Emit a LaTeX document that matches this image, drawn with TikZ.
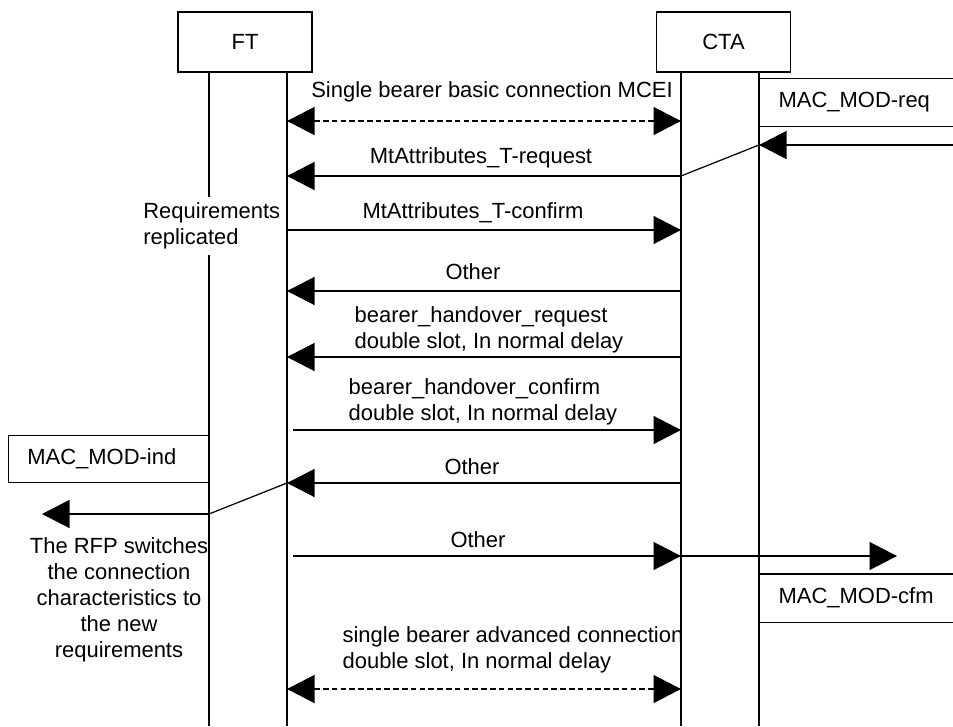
\documentclass[tikz,border=0pt]{standalone}
\usepackage{fontspec}
\setmainfont{Liberation Sans}
\usetikzlibrary{arrows.meta}
\begin{document}
\begin{tikzpicture}[>={Triangle[length=0.55cm,width=0.56cm]},line width=0.7pt,
  font=\fontsize{12.5}{14.8}\selectfont,
  entity/.style={draw,minimum width=2.68cm,minimum height=1.2cm},
  prim/.style={inner xsep=0.38cm,inner ysep=0pt,minimum height=0.94cm,align=left,anchor=west},
  lbl/.style={inner sep=0pt},
  async/.style={<->,dash pattern=on 3.2pt off 1.8pt}]
  \useasboundingbox (0,0) rectangle (19.06,-14.52);

  % entities and their lifelines
  \node[entity] (ft) at (4.9,-0.84) {FT};
  \node[entity] (cta) at (14.47,-0.84) {CTA};
  \coordinate (ftL) at (4.18,-1.44);
  \coordinate (ftR) at (5.74,-1.44);
  \coordinate (ctaL) at (13.62,-1.44);
  \coordinate (ctaR) at (15.18,-1.44);
  \foreach \c in {ftL,ftR,ctaL,ctaR}
    \draw (\c) -- (\c |- 0,-14.52);

  % basic connection
  \node[lbl] (mcei) at (9.84,-1.84) {Single bearer basic connection MCEI};
  \draw[async] (ftR |- 0,-2.42) -- (ctaL |- 0,-2.42);

  % MAC_MOD-req from the right
  \node[prim,text width=3.12cm] (modreq) at (15.18,-2.05) {MAC\_MOD-req};
  \draw (modreq.north east) -- (modreq.north west) -- (modreq.south west) -- (modreq.south east);
  \coordinate (reqin) at (19.06,-2.9);
  \draw[->] (reqin) -- (ctaR |- reqin);
  \draw (ctaR |- reqin) -- (ctaL |- 0,-3.52);

  % attributes exchange
  \node[lbl] (atreq) at (9.62,-3.16) {MtAttributes\_T-request};
  \draw[->] (ctaL |- 0,-3.52) -- (ftR |- 0,-3.52);
  \node[lbl] (atcfm) at (9.46,-4.26) {MtAttributes\_T-confirm};
  \draw[->] (ftR |- 0,-4.6) -- (ctaL |- 0,-4.6);
  \node[fill=white,inner xsep=1pt,inner ysep=3pt,align=left,anchor=west] (repl) at (2.82,-4.52) {Requirements\\replicated};

  \node[lbl] (oth1) at (9.46,-5.44) {Other};
  \draw[->] (ctaL |- 0,-5.82) -- (ftR |- 0,-5.82);

  % bearer handover
  \node[lbl,align=left,anchor=west] (bhreq) at (7.08,-6.6) {bearer\_handover\_request\\double slot, In normal delay};
  \draw[->] (ctaL |- 0,-7.14) -- (ftR |- 0,-7.14);
  \node[lbl,align=left,anchor=west] (bhcfm) at (6.96,-8.03) {bearer\_handover\_confirm\\double slot, In normal delay};
  \draw[->] ([xshift=0.12cm]ftR |- 0,-8.6) -- (ctaL |- 0,-8.6);

  % MAC_MOD-ind to the left
  \node[prim,draw,text width=3.24cm,anchor=east] (modind) at (ftL |- 0,-9.18) {MAC\_MOD-ind};
  \node[lbl] (oth2) at (9.44,-9.34) {Other};
  \draw[->] (ctaL |- 0,-9.66) -- (ftR |- 0,-9.66);
  \draw (ftR |- 0,-9.66) -- (ftL |- 0,-10.28);
  \coordinate (indout) at (0.84,-10.28);
  \draw[->] (ftL |- indout) -- (indout);
  \node[align=center,inner sep=0pt] (rfp) at (2.38,-11.99) {The RFP switches\\the connection\\characteristics to\\the new\\requirements};

  % MAC_MOD-cfm to the right
  \node[lbl] (oth3) at (9.56,-10.8) {Other};
  \draw[->] ([xshift=0.12cm]ftR |- 0,-11.12) -- (ctaL |- 0,-11.12);
  \coordinate (cfmout) at (17.94,-11.12);
  \draw[->] (ctaL |- cfmout) -- (cfmout);
  \node[prim,text width=3.12cm] (modcfm) at (15.18,-11.96) {MAC\_MOD-cfm};
  \draw (modcfm.north east) -- (modcfm.north west) -- (modcfm.south west) -- (modcfm.south east);

  % advanced connection
  \node[lbl,align=left,anchor=west] (adv) at (6.84,-13.0) {single bearer advanced connection\\double slot, In normal delay};
  \draw[async] (ftR |- 0,-13.78) -- (ctaL |- 0,-13.78);
\end{tikzpicture}
\end{document}
